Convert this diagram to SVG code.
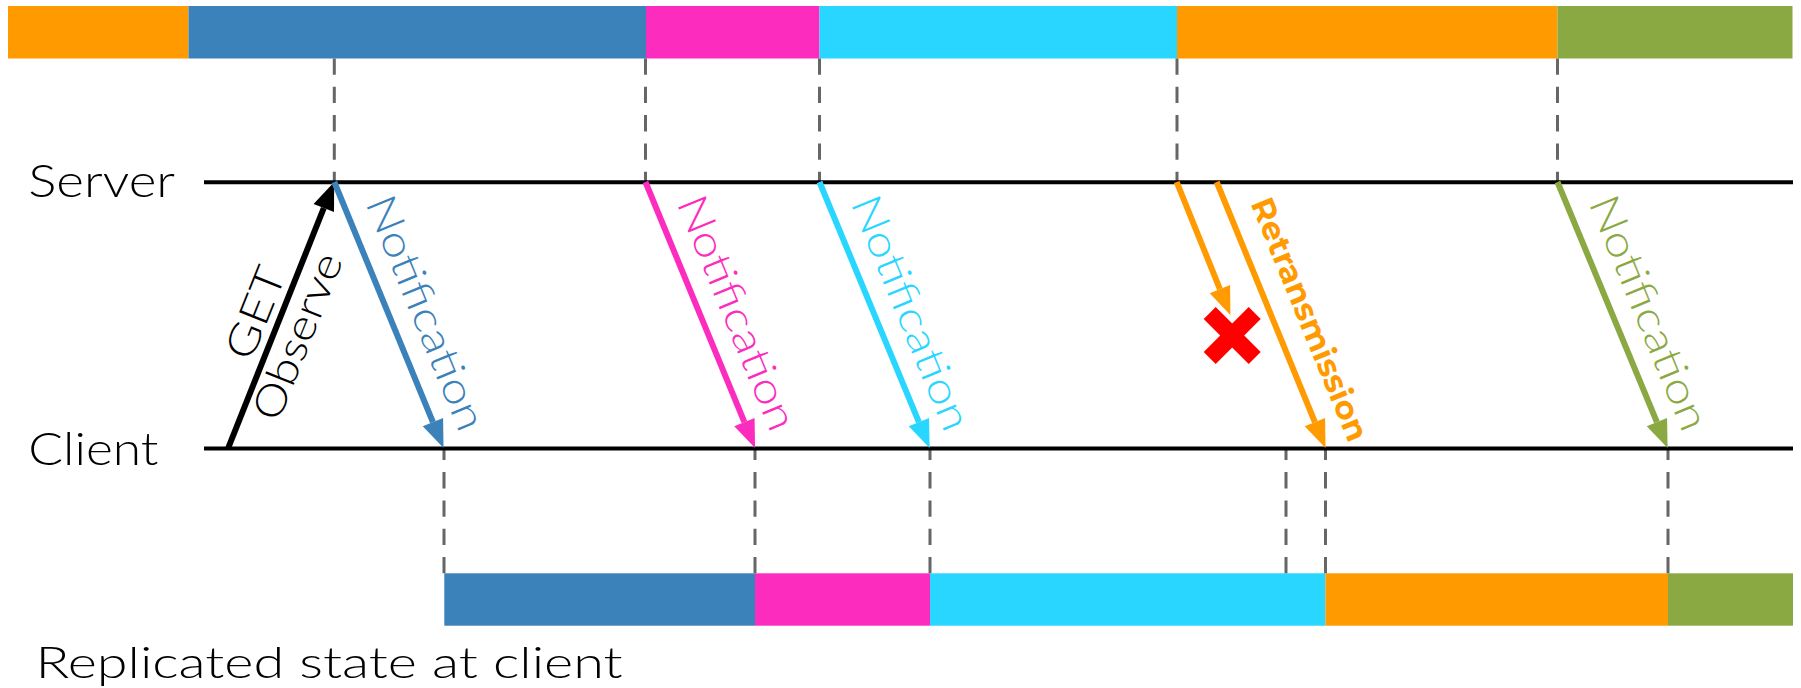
<svg xmlns="http://www.w3.org/2000/svg" width="1801" height="688" viewBox="0 0 1801 688">
<style>
.lbl{font-family:"Lato Light","Lato","Liberation Sans",sans-serif;font-weight:300;fill:#000}
.rot{font-family:"Lato Light","Lato","Liberation Sans",sans-serif;font-weight:300;font-size:42px}
.bold{font-family:"Montserrat","Lato","Liberation Sans",sans-serif;font-weight:700;font-size:32px}
.dash{stroke:#666;stroke-width:3;stroke-dasharray:16.3 12;fill:none}
.tl{stroke:#000;stroke-width:4;fill:none}
.arr{stroke-width:6;fill:none}
</style>
<defs>
<marker id="hk" markerUnits="userSpaceOnUse" markerWidth="30" markerHeight="24" refX="0" refY="11" orient="auto" overflow="visible"><path d="M0,0 L28,11 L0,22 z" fill="#000"/></marker>
<marker id="hb" markerUnits="userSpaceOnUse" markerWidth="30" markerHeight="24" refX="0" refY="11" orient="auto" overflow="visible"><path d="M0,0 L28,11 L0,22 z" fill="#3B81BA"/></marker>
<marker id="hp" markerUnits="userSpaceOnUse" markerWidth="30" markerHeight="24" refX="0" refY="11" orient="auto" overflow="visible"><path d="M0,0 L28,11 L0,22 z" fill="#FC2DBE"/></marker>
<marker id="hc" markerUnits="userSpaceOnUse" markerWidth="30" markerHeight="24" refX="0" refY="11" orient="auto" overflow="visible"><path d="M0,0 L28,11 L0,22 z" fill="#28D6FF"/></marker>
<marker id="ho" markerUnits="userSpaceOnUse" markerWidth="30" markerHeight="24" refX="0" refY="11" orient="auto" overflow="visible"><path d="M0,0 L28,11 L0,22 z" fill="#FF9A00"/></marker>
<marker id="hg" markerUnits="userSpaceOnUse" markerWidth="30" markerHeight="24" refX="0" refY="11" orient="auto" overflow="visible"><path d="M0,0 L28,11 L0,22 z" fill="#8AA942"/></marker>
</defs>
<rect width="1801" height="688" fill="#fff"/>

<g id="server-state-bar">
<rect x="8" y="6" width="180.5" height="52.5" fill="#FF9A00"/>
<rect x="188.5" y="6" width="457.5" height="52.5" fill="#3B81BA"/>
<rect x="646" y="6" width="173.5" height="52.5" fill="#FC2DBE"/>
<rect x="819.5" y="6" width="357.5" height="52.5" fill="#28D6FF"/>
<rect x="1177" y="6" width="380.5" height="52.5" fill="#FF9A00"/>
<rect x="1557.5" y="6" width="235" height="52.5" fill="#8AA942"/>
</g>

<g id="client-state-bar">
<rect x="444.3" y="573.3" width="310.7" height="52.4" fill="#3B81BA"/>
<rect x="755" y="573.3" width="175" height="52.4" fill="#FC2DBE"/>
<rect x="930" y="573.3" width="395.5" height="52.4" fill="#28D6FF"/>
<rect x="1325.5" y="573.3" width="342.5" height="52.4" fill="#FF9A00"/>
<rect x="1668" y="573.3" width="125" height="52.4" fill="#8AA942"/>
</g>

<g id="guides">
<line class="dash" x1="334.3" y1="58.5" x2="334.3" y2="182"/>
<line class="dash" x1="645.5" y1="58.5" x2="645.5" y2="182"/>
<line class="dash" x1="819.5" y1="58.5" x2="819.5" y2="182"/>
<line class="dash" x1="1177" y1="58.5" x2="1177" y2="182"/>
<line class="dash" x1="1557.5" y1="58.5" x2="1557.5" y2="182"/>
<line class="dash" x1="444" y1="573.3" x2="444" y2="448"/>
<line class="dash" x1="755" y1="573.3" x2="755" y2="448"/>
<line class="dash" x1="930" y1="573.3" x2="930" y2="448"/>
<line class="dash" x1="1286" y1="573.3" x2="1286" y2="448"/>
<line class="dash" x1="1325.5" y1="573.3" x2="1325.5" y2="448"/>
<line class="dash" x1="1668" y1="573.3" x2="1668" y2="448"/>
</g>

<g id="server">
<line class="tl" x1="204" y1="182.3" x2="1793" y2="182.3"/>
<text class="lbl" x="28.3" y="197.3" font-size="45" textLength="146.7" lengthAdjust="spacingAndGlyphs">Server</text>
</g>
<g id="client">
<line class="tl" x1="204" y1="448.5" x2="1793" y2="448.5"/>
<text class="lbl" x="28.3" y="464.5" font-size="45" textLength="130" lengthAdjust="spacingAndGlyphs">Client</text>
</g>
<g id="caption">
<text class="lbl" x="35.6" y="678.3" font-size="43" textLength="587" lengthAdjust="spacingAndGlyphs">Replicated state at client</text>
</g>

<g id="connectors">
<line class="arr" stroke="#000" stroke-width="7" x1="228" y1="448.5" x2="323.8" y2="208" marker-end="url(#hk)"/>
<line class="arr" stroke="#3B81BA" x1="334.3" y1="182" x2="432.9" y2="422.1" marker-end="url(#hb)"/>
<line class="arr" stroke="#FC2DBE" x1="645.5" y1="182" x2="744.4" y2="422.1" marker-end="url(#hp)"/>
<line class="arr" stroke="#28D6FF" x1="819.5" y1="182" x2="918.9" y2="422.1" marker-end="url(#hc)"/>
<line class="arr" stroke="#FF9A00" x1="1176.7" y1="182" x2="1219.9" y2="289.1" marker-end="url(#ho)"/>
<line class="arr" stroke="#FF9A00" x1="1216.7" y1="182" x2="1314.9" y2="422.1" marker-end="url(#ho)"/>
<line class="arr" stroke="#8AA942" x1="1557.5" y1="182" x2="1656.9" y2="422.1" marker-end="url(#hg)"/>
</g>

<g id="labels">
<text class="rot" font-size="44" fill="#000" text-anchor="middle" textLength="96" lengthAdjust="spacingAndGlyphs" transform="translate(268.8,318.3) rotate(-68.2)">GET</text>
<text class="rot" font-size="44" fill="#000" text-anchor="middle" textLength="176" lengthAdjust="spacingAndGlyphs" transform="translate(311,341.8) rotate(-68.2)">Observe</text>
<text class="rot" fill="#3B81BA" text-anchor="middle" textLength="250" lengthAdjust="spacingAndGlyphs" transform="translate(412.4,318.4) rotate(67.7)">Notification</text>
<text class="rot" fill="#FC2DBE" text-anchor="middle" textLength="250" lengthAdjust="spacingAndGlyphs" transform="translate(723.6,318.4) rotate(67.7)">Notification</text>
<text class="rot" fill="#28D6FF" text-anchor="middle" textLength="250" lengthAdjust="spacingAndGlyphs" transform="translate(897.6,318.4) rotate(67.7)">Notification</text>
<text class="rot" fill="#8AA942" text-anchor="middle" textLength="250" lengthAdjust="spacingAndGlyphs" transform="translate(1635.6,318.4) rotate(67.7)">Notification</text>
<text class="bold" fill="#FF9A00" text-anchor="middle" textLength="260" lengthAdjust="spacing" transform="translate(1299.5,323.5) rotate(67.7)">Retransmission</text>
</g>

<g id="lost-marker">
<line x1="1209.7" y1="313" x2="1254.7" y2="358" stroke="#FF0000" stroke-width="17"/>
<line x1="1254.7" y1="313" x2="1209.7" y2="358" stroke="#FF0000" stroke-width="17"/>
</g>
</svg>
